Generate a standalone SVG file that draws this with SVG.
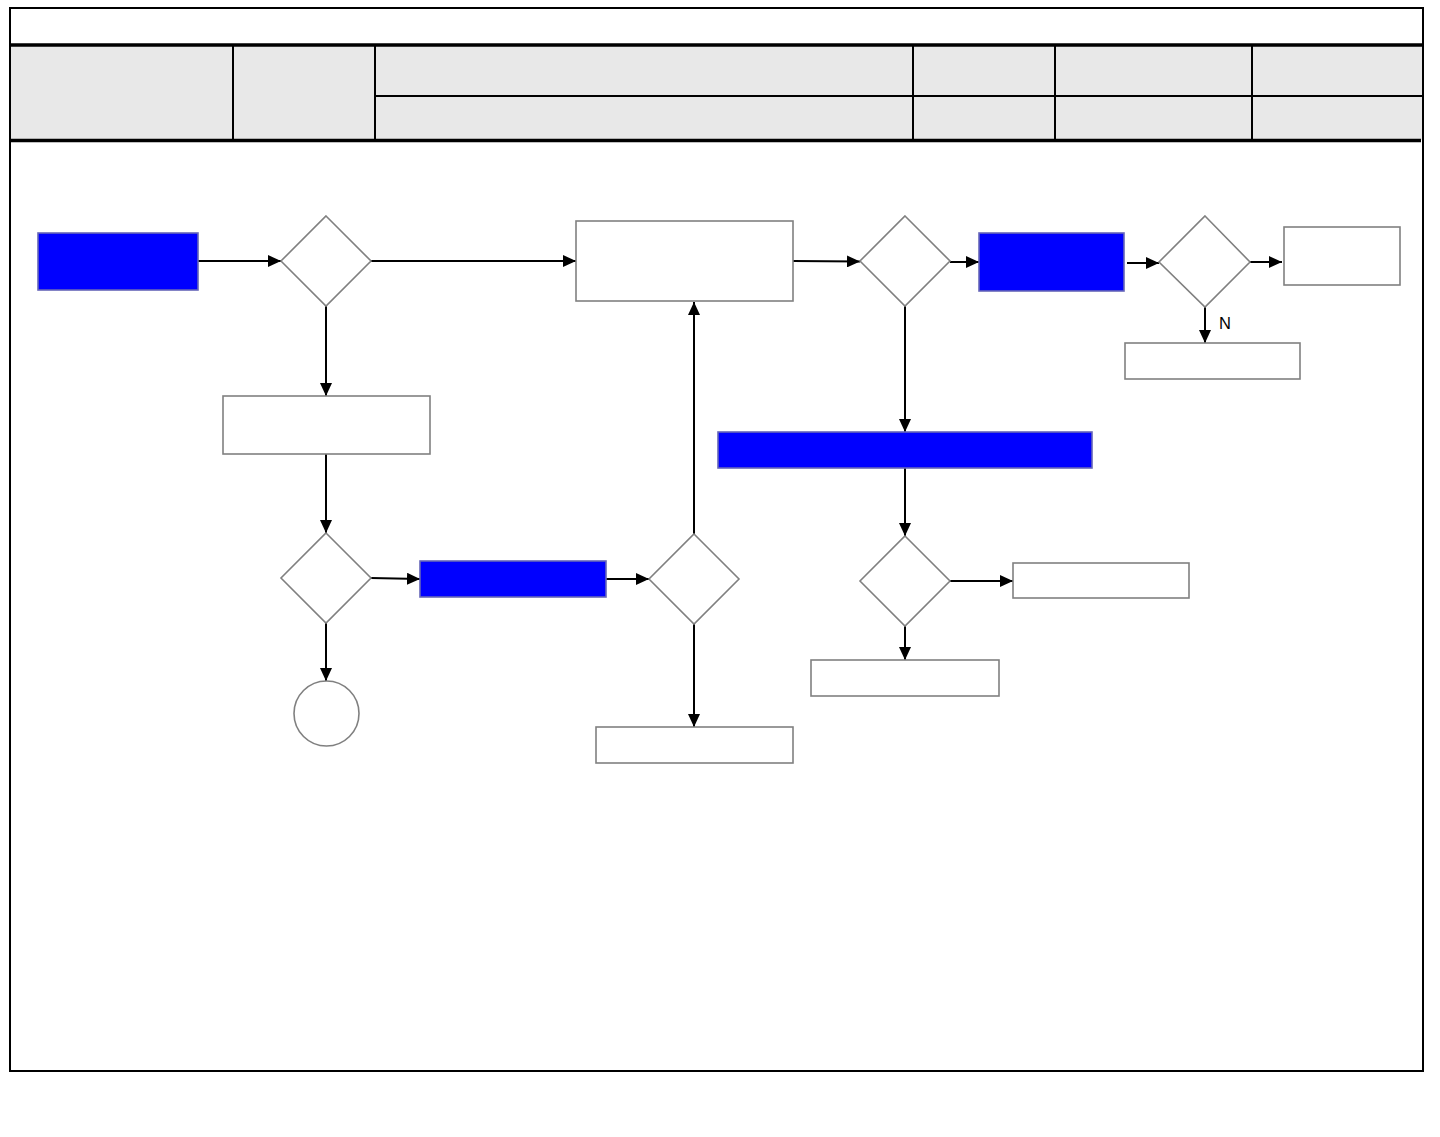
<svg xmlns="http://www.w3.org/2000/svg" width="1440" height="1137" viewBox="0 0 1440 1137">
<style>
.box{fill:#ffffff;stroke:#808080;stroke-width:1.6}
.blue{fill:#0000ff;stroke:#6666b8;stroke-width:1.6}
.hdr{fill:#e8e8e8;stroke:none}
.rule{stroke:#000;fill:none}
.conn{stroke:#000;stroke-width:2;fill:none;marker-end:url(#ah)}
.lbl{font-family:"Liberation Sans",Arial,sans-serif;font-size:16.5px;fill:#000}
</style>
<defs>
<marker id="ah" markerUnits="userSpaceOnUse" markerWidth="13" markerHeight="12" refX="13" refY="6" orient="auto">
<path d="M0,0 L13,6 L0,12 z" fill="#000"/>
</marker>
</defs>
<rect x="0" y="0" width="1440" height="1137" fill="#fff"/>
<g id="frame">
<rect class="hdr" x="11" y="46" width="1411" height="94"/>
<rect x="10" y="8" width="1413" height="1063" fill="none" stroke="#000" stroke-width="2"/>
<line class="rule" x1="10" y1="45" x2="1423" y2="45" stroke-width="3.5"/>
<line class="rule" x1="10" y1="140.5" x2="1421" y2="140.5" stroke-width="3.5"/>
<line class="rule" x1="375" y1="96" x2="1423" y2="96" stroke-width="2"/>
<line class="rule" x1="233" y1="45" x2="233" y2="142" stroke-width="2"/>
<line class="rule" x1="375" y1="45" x2="375" y2="142" stroke-width="2"/>
<line class="rule" x1="913" y1="45" x2="913" y2="142" stroke-width="2"/>
<line class="rule" x1="1055" y1="45" x2="1055" y2="142" stroke-width="2"/>
<line class="rule" x1="1252" y1="45" x2="1252" y2="142" stroke-width="2"/>
</g>
<g id="connectors">
<line class="conn" x1="198" y1="261" x2="281" y2="261"/>
<line class="conn" x1="371" y1="261" x2="576" y2="261"/>
<line class="conn" x1="326" y1="306" x2="326" y2="396"/>
<line class="conn" x1="326" y1="454" x2="326" y2="533"/>
<line class="conn" x1="371" y1="578" x2="420" y2="579"/>
<line class="conn" x1="606" y1="579" x2="649" y2="579"/>
<line class="conn" x1="694" y1="534" x2="694" y2="302"/>
<line class="conn" x1="694" y1="624" x2="694" y2="727"/>
<line class="conn" x1="326" y1="623" x2="326" y2="681"/>
<line class="conn" x1="793" y1="261" x2="860" y2="261.5"/>
<line class="conn" x1="950" y1="262" x2="979" y2="262"/>
<line class="conn" x1="905" y1="306" x2="905" y2="432"/>
<line class="conn" x1="905" y1="468" x2="905" y2="536"/>
<line class="conn" x1="950" y1="581" x2="1013" y2="581"/>
<line class="conn" x1="905" y1="626" x2="905" y2="660"/>
<line class="conn" x1="1127" y1="263" x2="1159" y2="263"/>
<line class="conn" x1="1250" y1="262" x2="1282" y2="262"/>
<line class="conn" x1="1205" y1="307" x2="1205" y2="343"/>
<text class="lbl" x="1219" y="329">N</text>
</g>
<g id="n_start"><rect class="blue" x="38" y="233" width="160" height="57"/></g>
<g id="n_d1"><polygon class="box" points="326,216 371,261 326,306 281,261"/></g>
<g id="n_r1"><rect class="box" x="223" y="396" width="207" height="58"/></g>
<g id="n_r2"><rect class="box" x="576" y="221" width="217" height="80"/></g>
<g id="n_d2"><polygon class="box" points="905,216 950,261 905,306 860,261"/></g>
<g id="n_b2"><rect class="blue" x="979" y="233" width="145" height="58"/></g>
<g id="n_d3"><polygon class="box" points="1205,216 1250,262 1205,307 1159,262"/></g>
<g id="n_r3"><rect class="box" x="1284" y="227" width="116" height="58"/></g>
<g id="n_r4"><rect class="box" x="1125" y="343" width="175" height="36"/></g>
<g id="n_b3"><rect class="blue" x="718" y="432" width="374" height="36"/></g>
<g id="n_d4"><polygon class="box" points="905,536 950,581 905,626 860,581"/></g>
<g id="n_r5"><rect class="box" x="1013" y="563" width="176" height="35"/></g>
<g id="n_r6"><rect class="box" x="811" y="660" width="188" height="36"/></g>
<g id="n_d5"><polygon class="box" points="326,533 371,578 326,623 281,578"/></g>
<g id="n_b4"><rect class="blue" x="420" y="561" width="186" height="36"/></g>
<g id="n_d6"><polygon class="box" points="694,534 739,579 694,624 649,579"/></g>
<g id="n_end"><circle class="box" cx="326.5" cy="713.5" r="32.5"/></g>
<g id="n_r7"><rect class="box" x="596" y="727" width="197" height="36"/></g>
</svg>
